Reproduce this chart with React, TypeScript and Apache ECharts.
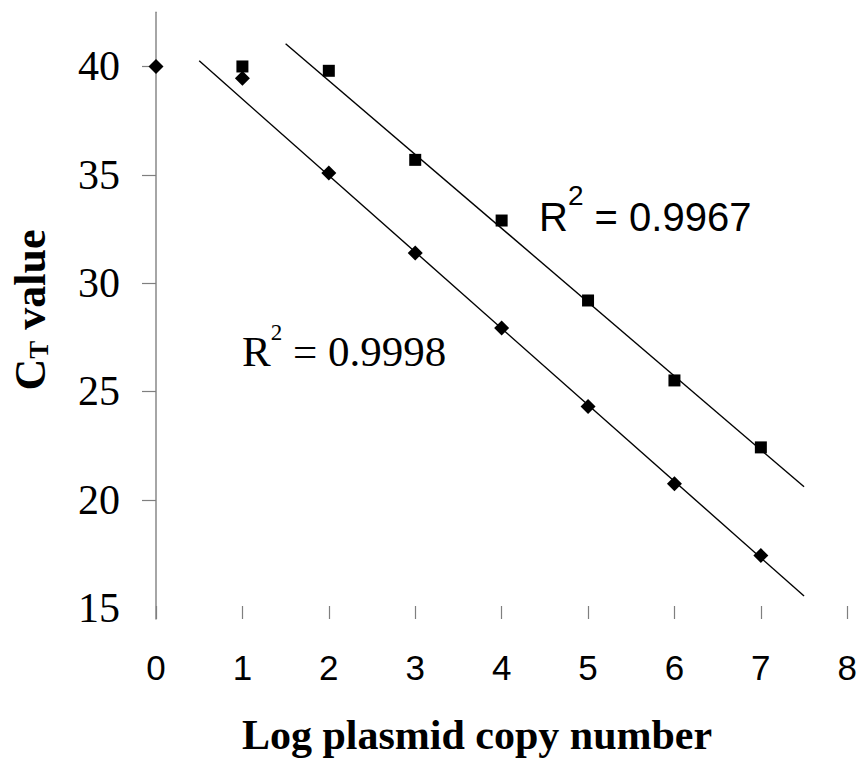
import React, { useEffect, useRef } from "react";
import * as echarts from "echarts";

// Log plasmid copy number (x) and CT values
const diamondX = [0, 1, 2, 3, 4, 5, 6, 7];
const diamondY = [40.0, 39.46, 35.08, 31.39, 27.93, 24.31, 20.74, 17.43];
const squareX = [1, 2, 3, 4, 5, 6, 7];
const squareY = [40.0, 39.8, 35.69, 32.89, 29.2, 25.51, 22.42];
// trend line end points (x, y)
const trendLowX = [0.5, 7.5];
const trendLowY = [40.26, 15.56];
const trendHighX = [1.5, 7.5];
const trendHighY = [41.05, 20.6];
const yLabelValues = [15, 20, 25, 30, 35, 40];
const yTickValues = [20, 25, 30, 35, 40];
const r2Low = "0.9998";
const r2High = "0.9967";

const zip = (xs: number[], ys: number[]) => xs.map((x, i) => [x, ys[i]]);

export default function App() {
  const ref = useRef<HTMLDivElement>(null);
  useEffect(() => {
    if (!ref.current) return;
    const chart = echarts.init(ref.current, null, { renderer: "svg" });
    const serif = "Liberation Serif";
    const sans = "Liberation Sans";
    chart.setOption({
      animation: false,
      backgroundColor: "#fff",
      grid: { left: 156, right: 11.3, top: 12.3, bottom: 142, containLabel: false },
      xAxis: {
        type: "value",
        min: 0,
        max: 8,
        interval: 1,
        position: "bottom",
        axisLine: { show: false, onZero: false },
        axisTick: { show: true, inside: true, length: 13, lineStyle: { color: "#7f7f7f", width: 1.2 } },
        axisLabel: { fontFamily: sans, fontSize: 35, color: "#000", margin: 31 },
        splitLine: { show: false },
      },
      yAxis: {
        type: "value",
        min: 14.5,
        max: 42.5,
        axisLine: { show: true, onZero: false, lineStyle: { color: "#888", width: 1.5 } },
        axisTick: { show: true, length: 14, customValues: yTickValues, lineStyle: { color: "#7f7f7f", width: 1.2 } },
        axisLabel: { customValues: yLabelValues, fontFamily: serif, fontSize: 42, color: "#000", margin: 36 },
        splitLine: { show: false },
      },
      series: [
        {
          type: "line",
          data: zip(trendLowX, trendLowY),
          showSymbol: false,
          silent: true,
          lineStyle: { color: "#000", width: 1.4 },
          z: 1,
        },
        {
          type: "line",
          data: zip(trendHighX, trendHighY),
          showSymbol: false,
          silent: true,
          lineStyle: { color: "#000", width: 1.4 },
          z: 1,
        },
        {
          type: "scatter",
          data: zip(diamondX, diamondY),
          symbol: "diamond",
          symbolSize: [15, 15],
          itemStyle: { color: "#000", opacity: 1 },
          clip: false,
          z: 3,
        },
        {
          type: "scatter",
          data: zip(squareX, squareY),
          symbol: "rect",
          symbolSize: 12,
          itemStyle: { color: "#000", opacity: 1 },
          clip: false,
          z: 3,
        },
      ],
      graphic: [
        {
          type: "text",
          x: 30,
          y: 310,
          rotation: Math.PI / 2,
          style: {
            text: "{c|C}{t|T}{c| value}",
            align: "center",
            verticalAlign: "middle",
            fill: "#000",
            rich: {
              c: { fontFamily: serif, fontWeight: "bold", fontSize: 44, lineHeight: 44, fill: "#000" },
              t: { fontFamily: serif, fontWeight: "bold", fontSize: 27, lineHeight: 26, verticalAlign: "bottom", fill: "#000" },
            },
          },
        },
        {
          type: "text",
          x: 477,
          y: 735,
          style: {
            text: "Log plasmid copy number",
            align: "center",
            verticalAlign: "middle",
            fontFamily: serif,
            fontWeight: "bold",
            fontSize: 42,
            fill: "#000",
          },
        },
        {
          type: "text",
          x: 539,
          y: 217,
          style: {
            text: "{r|R}{s|2}{r| = " + r2High + "}",
            align: "left",
            verticalAlign: "middle",
            fill: "#000",
            rich: {
              r: { fontFamily: sans, fontSize: 40, lineHeight: 72, fill: "#000" },
              s: { fontFamily: sans, fontSize: 28, lineHeight: 12, verticalAlign: "top", fill: "#000" },
            },
          },
        },
        {
          type: "text",
          x: 242,
          y: 351,
          style: {
            text: "{r|R}{s|2}{r| = " + r2Low + "}",
            align: "left",
            verticalAlign: "middle",
            fill: "#000",
            rich: {
              r: { fontFamily: serif, fontSize: 43, lineHeight: 60, fill: "#000" },
              s: { fontFamily: serif, fontSize: 23, lineHeight: 22, verticalAlign: "top", fill: "#000" },
            },
          },
        },
      ],
    });
    return () => chart.dispose();
  }, []);
  return (
    <div
      ref={ref}
      style={{ position: "fixed", left: 0, top: 0, width: 860, height: 761, background: "#fff" }}
    />
  );
}
